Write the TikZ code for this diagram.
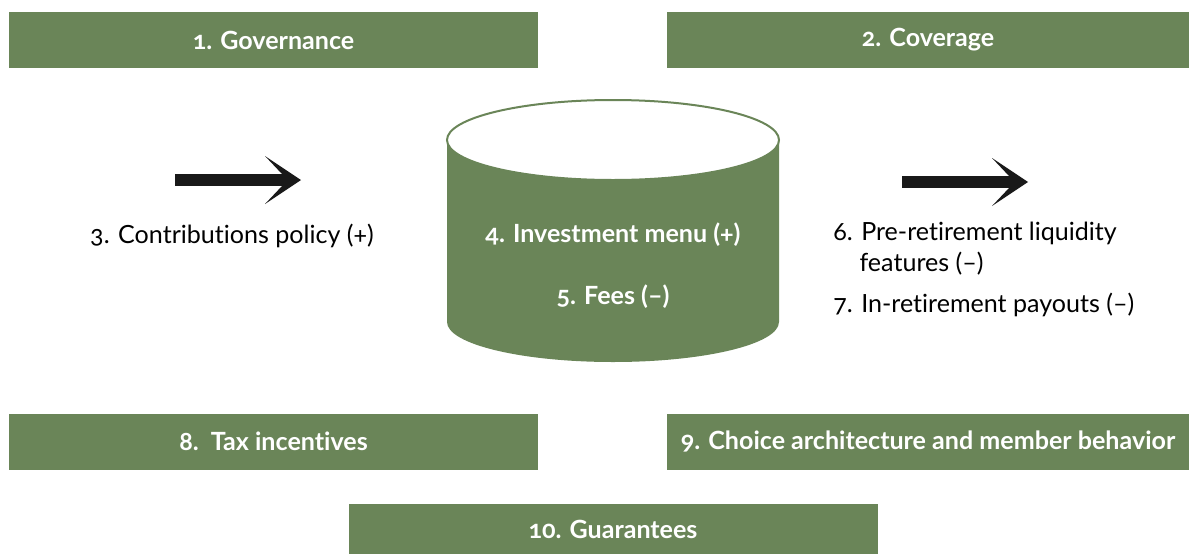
\documentclass[tikz,border=0pt]{standalone}
\usepackage{fontspec}
\setmainfont{Lato}[Numbers=OldStyle, Ligatures={NoCommon}]
\usepackage{xcolor}
\usetikzlibrary{arrows.meta,positioning}
\definecolor{sagegreen}{RGB}{106,133,88}
\tikzset{
	bar/.style={
			fill=sagegreen, text=white, inner sep=0pt,
			font=\bfseries\fontsize{18.8}{22}\selectfont,
			minimum width=396.75pt, minimum height=42pt
		},
	plaintext/.style={
			text=black, inner sep=0pt,
			font=\fontsize{18.8}{23}\selectfont
		},
	bigarrow/.style={
			draw=black!90, line width=9pt,
			-{Stealth[length=27pt, width=36pt, inset=17pt, line width=0pt]}
		}
}

\begin{document}
\begin{tikzpicture}[x=0.75pt, y=-0.75pt]
			\useasboundingbox (0,0) rectangle (1189,554);

			% the five bars
			\node[bar]	(gov)	at (273.5, 40)	{1. Governance};
			\node[bar, minimum width=391.5pt]	(cov)	at (928, 40)	{2. Coverage};
			\node[bar]	(tax)	at (273.5, 441.5)	{8.\ \ Tax incentives};
			\node[bar, minimum width=391.5pt]	(choice)	at (928, 441.5)	{9. Choice architecture and member behavior};
			\node[bar, minimum height=37.5pt]	(guar)	at (613, 529)	{10. Guarantees};

			% cylinder
			\fill[sagegreen] (447, 140) -- (447, 322) arc[start angle=180, end angle=360, x radius=166, y radius=-40] -- (779, 140) -- cycle;
			\draw[sagegreen, line width=1.5pt, fill=white] (613, 140) ellipse[x radius=166, y radius=40];
			\node[plaintext, text=white, font=\bfseries\fontsize{18.8}{22}\selectfont]	(menu)	at (613, 235)	{4. Investment menu (+)};
			\node[plaintext, text=white, font=\bfseries\fontsize{18.8}{22}\selectfont]	(fees)	at (613, 297)	{5. Fees (–)};

			% left and right
			\coordinate (inA)	at (175, 180);
			\coordinate (inB)	at (301, 180);
			\coordinate (outA)	at (902, 182);
			\coordinate (outB)	at (1028, 182);
			\draw[bigarrow]	(inA) -- (inB);
			\draw[bigarrow]	(outA) -- (outB);

			\node[plaintext]	(contrib)	at (232, 236)	{3. Contributions policy (+)};
			\node[plaintext, anchor=north west, align=left]	(liq)	at (833, 222)	{6. Pre-retirement liquidity\\\hspace*{1.05em}features (–)};
			\node[plaintext, anchor=west]	(payout)	at (833, 305)	{7. In-retirement payouts (–)};
		\end{tikzpicture}
\end{document}
